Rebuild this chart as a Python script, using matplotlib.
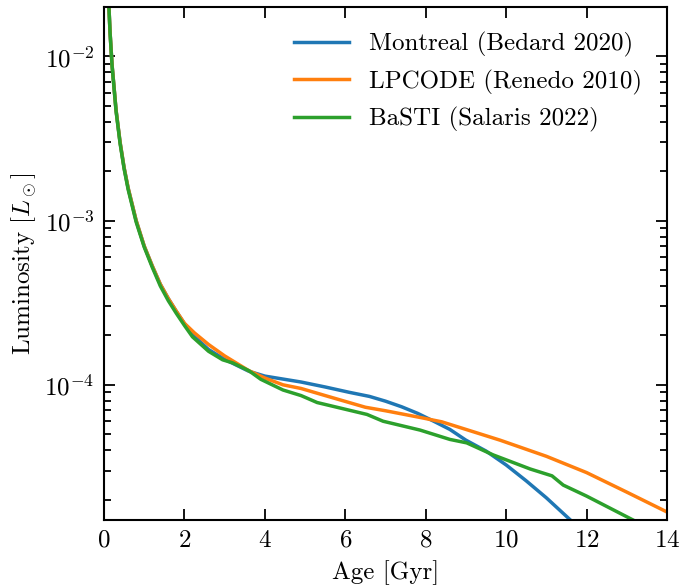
import numpy as np
import matplotlib
matplotlib.use("Agg")
import matplotlib.pyplot as plt

plt.rcParams['font.family'] = 'serif'
plt.rcParams['font.serif'] = ['cmr10']
plt.rcParams['mathtext.fontset'] = 'cm'
plt.rcParams['axes.formatter.use_mathtext'] = True
plt.rcParams['axes.unicode_minus'] = False

# cooling tracks, age in Gyr vs luminosity in Lsun
age_montreal = [0.05, 0.08, 0.1, 0.15, 0.2, 0.3, 0.4, 0.5, 0.6, 0.8, 1.0, 1.2, 1.4, 1.6, 1.8, 2.0, 2.2,
                2.6, 3.0, 3.6, 4.0, 4.9, 5.5, 6.1, 6.6, 7.0, 7.4, 7.8, 8.2, 8.6, 9.0, 9.5, 10.0,
                10.5, 11.0, 11.6, 12.0]
lum_montreal = [8.0e-2, 3.8e-2, 2.67e-2, 1.41e-2, 8.9e-3, 4.7e-3, 3.0e-3, 2.1e-3, 1.58e-3, 1.0e-3, 7.0e-4,
                5.3e-4, 4.1e-4, 3.35e-4, 2.8e-4, 2.36e-4, 2.02e-4,
                1.64e-4, 1.43e-4, 1.21e-4, 1.13e-4, 1.04e-4, 9.7e-5, 9.0e-5, 8.5e-5, 7.95e-5, 7.35e-5,
                6.7e-5, 6.0e-5, 5.35e-5, 4.6e-5, 3.95e-5, 3.25e-5, 2.6e-5, 2.05e-5, 1.5e-5, 1.2e-5]

age_lpcode = [0.05, 0.08, 0.1, 0.15, 0.2, 0.3, 0.4, 0.5, 0.6, 0.8, 1.0, 1.2, 1.4, 1.6, 1.8, 2.0, 2.25,
              2.6, 3.0, 3.6, 4.0, 4.45, 4.9, 5.5, 6.5, 7.0, 7.9, 8.4, 9.0, 9.85, 11.0, 12.0, 13.0, 14.0]
lum_lpcode = [8.0e-2, 3.8e-2, 2.67e-2, 1.41e-2, 8.9e-3, 4.7e-3, 3.0e-3, 2.1e-3, 1.58e-3, 1.0e-3, 7.0e-4,
              5.3e-4, 4.1e-4, 3.35e-4, 2.8e-4, 2.37e-4, 2.07e-4,
              1.76e-4, 1.5e-4, 1.22e-4, 1.1e-4, 1.0e-4, 9.5e-5, 8.6e-5, 7.3e-5, 6.95e-5, 6.3e-5,
              5.95e-5, 5.35e-5, 4.6e-5, 3.67e-5, 2.92e-5, 2.22e-5, 1.68e-5]

age_basti = [0.05, 0.08, 0.1, 0.15, 0.2, 0.3, 0.4, 0.5, 0.6, 0.8, 1.0, 1.2, 1.4, 1.6, 1.8, 2.0, 2.2,
             2.6, 2.95, 3.2, 3.6, 3.9, 4.45, 4.9, 5.3, 6.54, 6.94, 7.86, 8.6, 9.02, 9.68, 10.6,
             11.14, 11.42, 12.0, 13.16, 13.5]
lum_basti = [8.0e-2, 3.8e-2, 2.65e-2, 1.4e-2, 8.8e-3, 4.65e-3, 2.95e-3, 2.07e-3, 1.55e-3, 9.8e-4, 6.9e-4,
             5.2e-4, 4.0e-4, 3.25e-4, 2.72e-4, 2.3e-4, 1.96e-4,
             1.6e-4, 1.42e-4, 1.36e-4, 1.22e-4, 1.08e-4, 9.3e-5, 8.6e-5, 7.8e-5, 6.6e-5, 6.0e-5,
             5.3e-5, 4.65e-5, 4.43e-5, 3.74e-5, 3.07e-5, 2.79e-5, 2.45e-5, 2.1e-5, 1.5e-5, 1.35e-5]

fig = plt.figure(figsize=(6.82, 5.87), dpi=100)
ax = fig.add_axes([0.1525, 0.114, 0.8255, 0.874])

ax.plot(age_montreal, lum_montreal, color='tab:blue', lw=2.5, label='Montreal (Bedard 2020)')
ax.plot(age_lpcode, lum_lpcode, color='tab:orange', lw=2.5, label='LPCODE (Renedo 2010)')
ax.plot(age_basti, lum_basti, color='tab:green', lw=2.5, label='BaSTI (Salaris 2022)')

ax.set_yscale('log')
ax.set_xlim(0, 14)
ax.set_ylim(1.5e-5, 2.0e-2)
ax.set_xticks([0, 2, 4, 6, 8, 10, 12, 14])
ax.set_xlabel('Age [Gyr]', fontsize=18, labelpad=6)
ax.set_ylabel(r'Luminosity $[L_\odot]$', fontsize=18, labelpad=4)

ax.tick_params(which='both', direction='in', top=True, right=True, labelsize=18, width=1.3)
ax.tick_params(which='major', length=8, pad=7)
ax.tick_params(which='minor', length=5)
for s in ax.spines.values():
    s.set_linewidth(1.5)

ax.legend(loc='upper right', frameon=False, fontsize=18, handlelength=2.2,
          handletextpad=0.8, labelspacing=0.5, borderaxespad=0.6)

fig.savefig('out.png', dpi=100)
